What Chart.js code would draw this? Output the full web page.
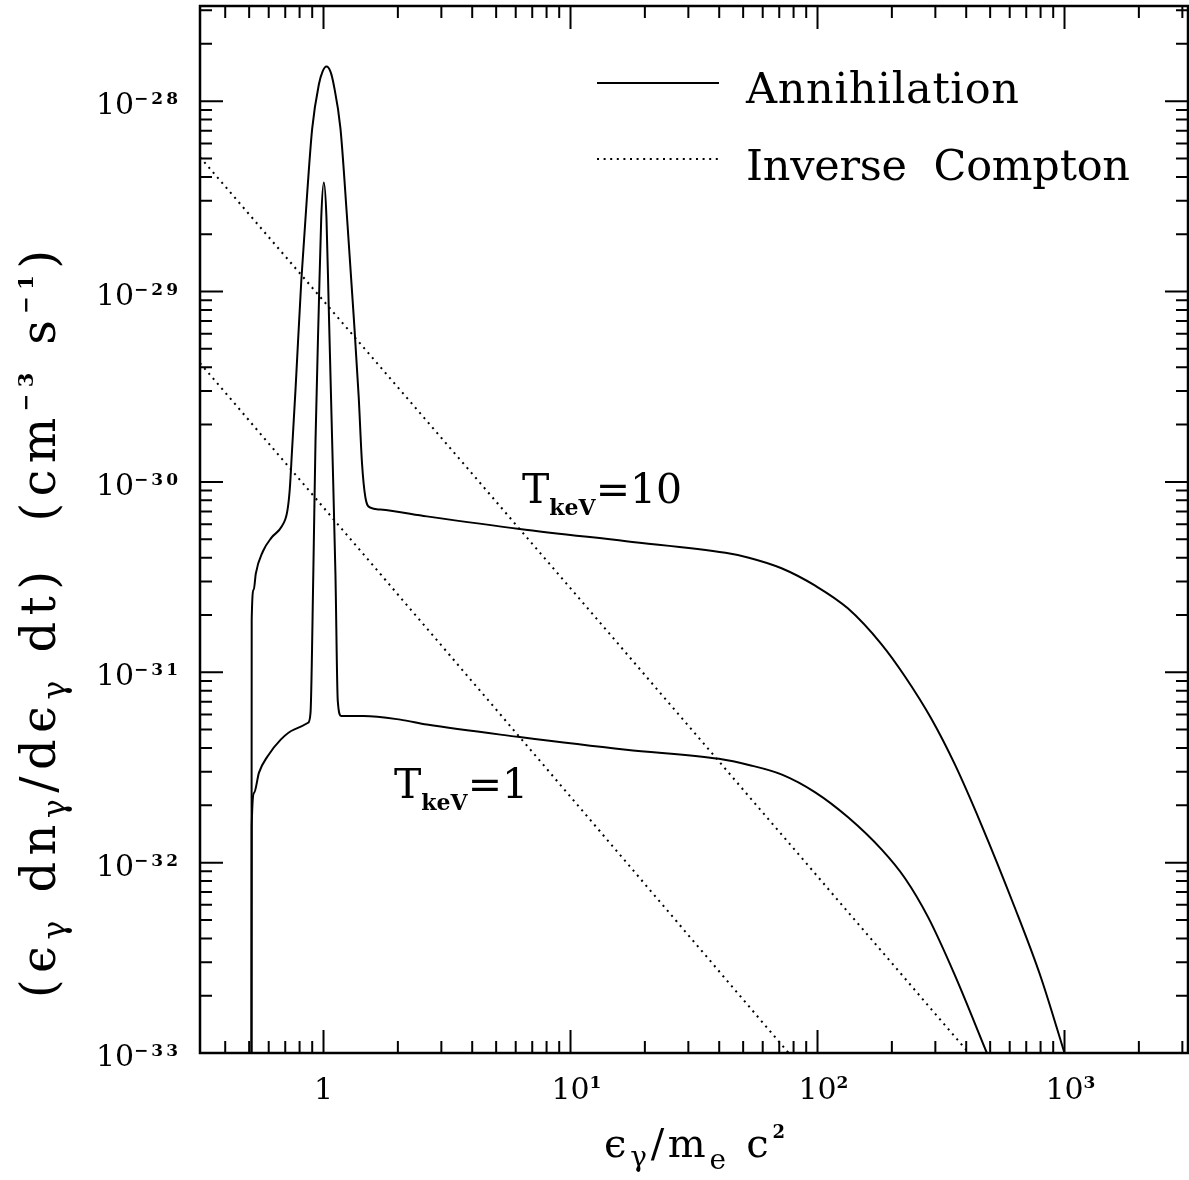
<!DOCTYPE html>
<html>
<head>
<meta charset="utf-8">
<script src="https://cdn.jsdelivr.net/npm/chart.js@4.4.1/dist/chart.umd.min.js"></script>
<style>
body{margin:0;background:#fff;}
#wrap{width:1189px;height:1180px;position:relative;}
</style>
</head>
<body>
<div id="wrap"><canvas id="c"></canvas></div>
<script>
// annihilation spectrum, T = 10 keV
const annE10 = [0.511, 0.512, 0.522, 0.532, 0.568, 0.617, 0.677, 0.713, 0.730, 0.746, 0.771, 0.813, 0.860, 0.900, 0.957, 0.991, 1.028, 1.067, 1.100, 1.171, 1.246, 1.325, 1.388, 1.432, 1.477, 1.547, 1.697, 2.62, 6.22, 16.8, 42.4, 52.7, 71.5, 97.9, 133, 181, 226, 289, 359, 459, 626, 802, 1000];
const annR10 = [1e-33, 1.89e-31, 2.72e-31, 3.30e-31, 4.31e-31, 5.11e-31, 5.83e-31, 6.98e-31, 9.12e-31, 1.48e-30, 3.13e-30, 1.14e-29, 3.36e-29, 7.19e-29, 1.22e-28, 1.43e-28, 1.52e-28, 1.43e-28, 1.22e-28, 7.19e-29, 2.42e-29, 7.40e-30, 2.81e-30, 1.25e-30, 8.32e-31, 7.33e-31, 7.16e-31, 6.59e-31, 5.66e-31, 4.88e-31, 4.24e-31, 4.00e-31, 3.52e-31, 2.85e-31, 2.16e-31, 1.41e-31, 9.5e-32, 5.7e-32, 3.3e-32, 1.6e-32, 5.9e-33, 2.5e-33, 1e-33];

// annihilation spectrum, T = 1 keV
const annE1 = [0.511, 0.512, 0.524, 0.548, 0.593, 0.671, 0.759, 0.866, 0.886, 0.909, 0.928, 0.957, 0.979, 1.003, 1.028, 1.050, 1.084, 1.118, 1.142, 1.179, 1.454, 2.044, 2.62, 6.22, 16.8, 39.9, 52.7, 71.8, 97.9, 133, 182, 226, 281, 359, 485];
const annR1 = [1e-33, 1.55e-32, 2.33e-32, 2.97e-32, 3.61e-32, 4.43e-32, 5.00e-32, 5.43e-32, 6.14e-32, 3.22e-31, 1.63e-30, 8.24e-30, 2.43e-29, 3.74e-29, 2.43e-29, 8.24e-30, 1.63e-30, 3.22e-31, 7.10e-32, 5.90e-32, 5.90e-32, 5.64e-32, 5.31e-32, 4.57e-32, 3.92e-32, 3.51e-32, 3.26e-32, 2.90e-32, 2.34e-32, 1.73e-32, 1.17e-32, 8.28e-33, 5.14e-33, 2.58e-33, 1e-33];

// inverse compton (straight power laws in log-log)
const icE10 = [0.3162, 6.22, 410];
const icR10 = [5.08e-29, 5.66e-31, 1e-33];
const icE1 = [0.3162, 6.22, 76.4];
const icR1 = [4.21e-30, 4.57e-32, 1e-33];

const xRange = [0.3162, 3162];
const yRange = [1e-33, 3.162e-28];
const xTickValues = [1, 10, 100, 1000];
const xTickExps = ["", "1", "2", "3"];
const yTickValues = [1e-28, 1e-29, 1e-30, 1e-31, 1e-32, 1e-33];
const yTickExps = ["−28", "−29", "−30", "−31", "−32", "−33"];

const FAM = "'DejaVu Serif', serif";
const dotted = [2, 4.6];

function pts(xs, ys) { return xs.map((x, i) => ({x: x, y: ys[i]})); }

// draw text char by char, with sub/superscripts
function drawRich(ctx, segs, x, y, opt) {
    const items = [];
    segs.forEach(s => {
        const size = s.size || opt.size;
        const font = (s.bold ? "bold " : "") + size + "px " + FAM;
        ctx.font = font;
        for (const ch of s.t) {
            items.push({ch: ch, font: font, w: ctx.measureText(ch).width, dy: s.dy || 0, ls: s.ls || 0});
        }
    });
    let total = 0;
    items.forEach((it, i) => { total += it.w + (i < items.length - 1 ? it.ls : 0); });
    let extra = 0;
    if (opt.fit && items.length > 1) extra = (opt.fit - total) / (items.length - 1);
    const width = opt.fit || total;
    let cx = opt.align === "right" ? x - width : opt.align === "center" ? x - width / 2 : x;
    ctx.textAlign = "left";
    ctx.textBaseline = "alphabetic";
    items.forEach(it => {
        ctx.font = it.font;
        ctx.fillText(it.ch, cx, y + it.dy);
        cx += it.w + it.ls + extra;
    });
}

const framePlugin = {
    id: "frame",
    afterDraw(chart) {
        const ctx = chart.ctx;
        const a = chart.chartArea;
        const sx = chart.scales.x, sy = chart.scales.y;
        ctx.save();
        ctx.strokeStyle = "#000";
        ctx.fillStyle = "#000";
        ctx.setLineDash([]);

        // ticks
        ctx.lineWidth = 2;
        ctx.beginPath();
        for (let d = -1; d <= 3; d++) {
            for (let m = 1; m <= 9; m++) {
                const v = m * Math.pow(10, d);
                if (v < xRange[0] || v > xRange[1]) continue;
                const px = sx.getPixelForValue(v);
                const len = m === 1 ? 23 : 12;
                ctx.moveTo(px, a.bottom); ctx.lineTo(px, a.bottom - len);
                ctx.moveTo(px, a.top); ctx.lineTo(px, a.top + len);
            }
        }
        for (let d = -33; d <= -28; d++) {
            for (let m = 1; m <= 9; m++) {
                const v = m * Math.pow(10, d);
                if (v < yRange[0] * 0.999 || v > yRange[1]) continue;
                const py = sy.getPixelForValue(v);
                const len = m === 1 ? 23 : 12;
                ctx.moveTo(a.left, py); ctx.lineTo(a.left + len, py);
                ctx.moveTo(a.right, py); ctx.lineTo(a.right - len, py);
            }
        }
        ctx.stroke();

        ctx.lineWidth = 2.5;
        ctx.strokeRect(a.left, a.top, a.right - a.left, a.bottom - a.top);

        // tick labels
        yTickValues.forEach((v, i) => {
            const py = sy.getPixelForValue(v);
            drawRich(ctx, [{t: "10"}, {t: yTickExps[i], size: 17, bold: true, dy: -10, ls: 3}], 178, py + 13, {size: 30, align: "right"});
        });
        xTickValues.forEach((v, i) => {
            const px = sx.getPixelForValue(v);
            if (!xTickExps[i]) {
                drawRich(ctx, [{t: "1"}], px, 1099, {size: 30, align: "center"});
            } else {
                ctx.font = "30px " + FAM;
                const w = ctx.measureText("10").width;
                drawRich(ctx, [{t: "10"}, {t: xTickExps[i], size: 17, bold: true, dy: -11}], px - w / 2, 1099, {size: 30});
            }
        });

        // axis titles
        drawRich(ctx, [
            {t: "ϵ"}, {t: "γ", size: 28, dy: 9}, {t: "/m"}, {t: "e", size: 28, dy: 12},
            {t: " c"}, {t: "2", size: 18, bold: true, dy: -19}
        ], 604, 1157, {size: 40, fit: 181});

        ctx.save();
        ctx.translate(55, 624);
        ctx.rotate(-Math.PI / 2);
        drawRich(ctx, [
            {t: "(ϵ"}, {t: "γ", size: 32, dy: 10}, {t: " dn"}, {t: "γ", size: 32, dy: 10},
            {t: "/dϵ"}, {t: "γ", size: 32, dy: 10}, {t: " dt)  (cm"},
            {t: "−3", size: 21, bold: true, dy: -22}, {t: " s"},
            {t: "−1", size: 21, bold: true, dy: -22}, {t: ")"}
        ], 0, 0, {size: 48, align: "center", fit: 748});
        ctx.restore();

        // legend
        const ds = chart.data.datasets;
        ctx.lineWidth = 2;
        ctx.setLineDash(ds[0].borderDash || []);
        ctx.beginPath(); ctx.moveTo(597, 83); ctx.lineTo(719, 83); ctx.stroke();
        ctx.setLineDash(ds[2].borderDash);
        ctx.beginPath(); ctx.moveTo(597, 159); ctx.lineTo(719, 159); ctx.stroke();
        ctx.setLineDash([]);
        drawRich(ctx, [{t: "Annihilation"}], 746, 103, {size: 43, fit: 273});
        drawRich(ctx, [{t: "Inverse  Compton"}], 746, 180, {size: 43, fit: 384});

        // curve labels
        drawRich(ctx, [{t: "T"}, {t: "keV", size: 22, bold: true, dy: 12}, {t: "=10"}], 522, 503, {size: 41});
        drawRich(ctx, [{t: "T"}, {t: "keV", size: 22, bold: true, dy: 12}, {t: "=1"}], 394, 798, {size: 41});

        ctx.restore();
    }
};

const lineStyle = {
    borderColor: "#000",
    borderWidth: 2,
    pointRadius: 0,
    fill: false,
    cubicInterpolationMode: "monotone"
};

new Chart(document.getElementById("c"), {
    type: "line",
    data: {
        datasets: [
            Object.assign({label: "Annihilation T=10", data: pts(annE10, annR10)}, lineStyle),
            Object.assign({label: "Annihilation T=1", data: pts(annE1, annR1)}, lineStyle),
            Object.assign({label: "Inverse Compton T=10", data: pts(icE10, icR10), borderDash: dotted}, lineStyle),
            Object.assign({label: "Inverse Compton T=1", data: pts(icE1, icR1), borderDash: dotted}, lineStyle)
        ]
    },
    options: {
        responsive: true,
        maintainAspectRatio: false,
        animation: false,
        layout: {padding: {left: 200, top: 6, right: 1, bottom: 127}},
        plugins: {legend: {display: false}, tooltip: {enabled: false}},
        scales: {
            x: {type: "logarithmic", bounds: "data", min: xRange[0], max: xRange[1], display: false},
            y: {type: "logarithmic", bounds: "data", min: yRange[0], max: yRange[1], display: false}
        }
    },
    plugins: [framePlugin]
});
</script>
</body>
</html>
